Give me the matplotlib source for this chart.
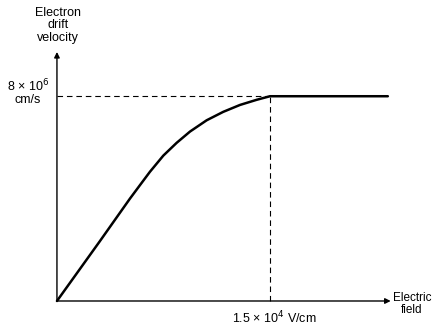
import matplotlib.pyplot as plt

# field in 10^4 V/cm, drift velocity in 10^6 cm/s
field = [0, 0.30, 0.514, 0.585, 0.655, 0.749, 0.843, 0.937, 1.054, 1.171, 1.289,
         1.406, 1.5, 2.33]
velocity = [0, 2.32, 4.0, 4.53, 5.05, 5.68, 6.18, 6.62, 7.06, 7.39, 7.66,
            7.86, 8.0, 8.0]
e_sat = 1.5
v_sat = 8.0

plt.rcParams['font.family'] = ['Liberation Sans', 'DejaVu Sans']

fig = plt.figure(figsize=(4.33, 3.26), dpi=100)
ax = fig.add_axes([0, 0, 1, 1])
ax.set_xlim(-0.401, 2.648)
ax.set_ylim(-0.977, 11.76)
ax.axis("off")

# axes with arrow heads
arrow = dict(arrowstyle="-|>", lw=1.0, color="black", mutation_scale=8, shrinkA=0, shrinkB=0)
ax.annotate("", xy=(0, 9.73), xytext=(0, 0), arrowprops=arrow)
ax.annotate("", xy=(2.35, 0), xytext=(0, 0), arrowprops=arrow)

# guide lines to the saturation point
ax.plot([0, e_sat], [v_sat, v_sat], color="black", lw=0.8, dashes=(5, 3.5))
ax.plot([e_sat, e_sat], [0, v_sat], color="black", lw=0.8, dashes=(5, 3.5))

ax.plot(field, velocity, color="black", lw=1.8, solid_capstyle="round",
        solid_joinstyle="round")

fs = 9
ax.text(0.007, 10.78, "Electron\ndrift\nvelocity", ha="center", va="center",
        fontsize=fs, linespacing=1.05)
ax.text(-0.204, 8.40, "8 × 10$^6$", ha="center", va="center", fontsize=fs)
ax.text(-0.204, 7.85, "cm/s", ha="center", va="center", fontsize=fs)
ax.text(1.528, -0.66, "1.5 × 10$^4$ V/cm", ha="center", va="center", fontsize=fs)
ax.text(2.50, -0.10, "Electric\nfield", ha="center", va="center", fontsize=8.5,
        linespacing=1.0)

fig.savefig("out.png", dpi=100)
